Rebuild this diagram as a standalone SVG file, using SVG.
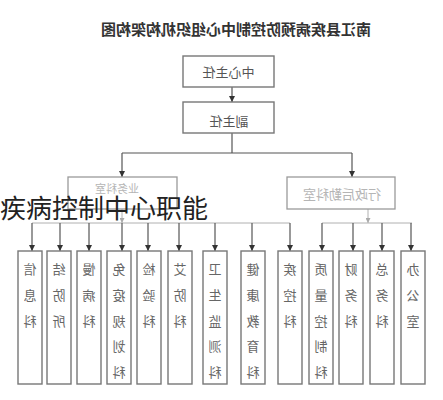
<svg xmlns="http://www.w3.org/2000/svg" width="443" height="400" viewBox="0 0 443 400">
<style>
.bg{fill:#fff}
.box{fill:#fff;stroke:#777;stroke-width:1.4}
.fbox{fill:#fff;stroke:#9a9a9a;stroke-width:1.3}
.ln{fill:none;stroke:#555;stroke-width:1.2}
.fl{fill:none;stroke:#b0b0b0;stroke-width:1}
.t{font-family:"Noto Sans CJK SC","Liberation Sans",sans-serif;fill:#555;text-anchor:middle}
.title{font-size:15px;font-weight:bold;fill:#333}
.m{font-size:13px}
.f{font-size:11px;fill:#b5b5b5}
.v{font-size:13px;fill:#666}
.ov{font-family:"Noto Sans CJK SC","Liberation Sans",sans-serif;font-size:26px;fill:#222}
</style>
<defs>
<marker id="ah" markerUnits="userSpaceOnUse" markerWidth="6" markerHeight="6" refX="6" refY="3" orient="auto"><path d="M0,0 L6,3 L0,6 z" fill="#333"/></marker>
<marker id="ahf" markerUnits="userSpaceOnUse" markerWidth="5" markerHeight="5" refX="5" refY="2.5" orient="auto"><path d="M0,0 L5,2.5 L0,5 z" fill="#aaa"/></marker>
</defs>
<rect class="bg" x="0" y="0" width="443" height="400"/>
<g transform="matrix(-1 0 0 1 443 0)">
<text id="title" class="t title" x="207" y="35">南江县疾病预防控制中心组织机构架构图</text>
<g id="connectors">
<line class="ln" x1="211" y1="87" x2="211" y2="102" marker-end="url(#ah)"/>
<polyline class="ln" points="211,133 211,153"/>
<line class="ln" x1="91" y1="153" x2="321" y2="153"/>
<line class="ln" x1="321" y1="153" x2="321" y2="177" marker-end="url(#ah)"/>
<line class="ln" x1="91" y1="153" x2="91" y2="177" marker-end="url(#ah)"/>
<line class="fl" x1="321" y1="209" x2="321" y2="223" marker-end="url(#ahf)"/>
<line class="fl" x1="75" y1="209" x2="75" y2="223" marker-end="url(#ahf)"/>
<line class="fl" x1="153" y1="223" x2="411" y2="223"/>
<line class="fl" x1="31" y1="223" x2="121" y2="223"/>
<g class="ln" marker-end="url(#ah)">
<line x1="411" y1="223" x2="411" y2="251"/>
<line x1="383" y1="223" x2="383" y2="251"/>
<line x1="354" y1="223" x2="354" y2="251"/>
<line x1="321" y1="223" x2="321" y2="251"/>
<line x1="295" y1="223" x2="295" y2="251"/>
<line x1="264" y1="223" x2="264" y2="251"/>
<line x1="228" y1="223" x2="228" y2="251"/>
<line x1="191" y1="223" x2="191" y2="251"/>
<line x1="153" y1="223" x2="153" y2="251"/>
<line x1="121" y1="223" x2="121" y2="251"/>
<line x1="90" y1="223" x2="90" y2="251"/>
<line x1="61" y1="223" x2="61" y2="251"/>
<line x1="32" y1="223" x2="32" y2="251"/>
</g>
</g>
<g id="director"><rect class="box" x="169" y="56" width="91" height="31"/><text class="t m" x="214.5" y="77">中心主任</text></g>
<g id="deputy"><rect class="box" x="169" y="102" width="91" height="31"/><text class="t m" x="214" y="126">副主任</text></g>
<g id="business"><rect class="fbox" x="266" y="177" width="109" height="32"/><text class="t f" x="326" y="193">业务科室</text></g>
<g id="admin"><rect class="fbox" x="48" y="177" width="108" height="32"/><text class="t f" style="font-size:13px" x="101" y="199">行政后勤科室</text></g>
<g id="d1"><rect class="box" x="401" y="251" width="24" height="133"/><text class="t v" x="413" y="274">信</text><text class="t v" x="413" y="300">息</text><text class="t v" x="413" y="326">科</text></g>
<g id="d2"><rect class="box" x="372" y="251" width="24" height="133"/><text class="t v" x="384" y="274">结</text><text class="t v" x="384" y="300">防</text><text class="t v" x="384" y="326">所</text></g>
<g id="d3"><rect class="box" x="342" y="251" width="24" height="133"/><text class="t v" x="354" y="274">慢</text><text class="t v" x="354" y="300">病</text><text class="t v" x="354" y="326">科</text></g>
<g id="d4"><rect class="box" x="312" y="251" width="24" height="133"/><text class="t v" x="324" y="274">免</text><text class="t v" x="324" y="300">疫</text><text class="t v" x="324" y="326">规</text><text class="t v" x="324" y="351">划</text><text class="t v" x="324" y="377">科</text></g>
<g id="d5"><rect class="box" x="282" y="251" width="24" height="133"/><text class="t v" x="294" y="274">检</text><text class="t v" x="294" y="300">验</text><text class="t v" x="294" y="326">科</text></g>
<g id="d6"><rect class="box" x="251" y="251" width="24" height="133"/><text class="t v" x="263" y="274">艾</text><text class="t v" x="263" y="300">防</text><text class="t v" x="263" y="326">科</text></g>
<g id="d7"><rect class="box" x="216" y="251" width="24" height="133"/><text class="t v" x="228" y="274">卫</text><text class="t v" x="228" y="300">生</text><text class="t v" x="228" y="326">监</text><text class="t v" x="228" y="351">测</text><text class="t v" x="228" y="377">科</text></g>
<g id="d8"><rect class="box" x="178" y="251" width="24" height="133"/><text class="t v" x="190" y="274">健</text><text class="t v" x="190" y="300">康</text><text class="t v" x="190" y="326">教</text><text class="t v" x="190" y="351">育</text><text class="t v" x="190" y="377">科</text></g>
<g id="d9"><rect class="box" x="141" y="251" width="24" height="133"/><text class="t v" x="153" y="274">疾</text><text class="t v" x="153" y="300">控</text><text class="t v" x="153" y="326">科</text></g>
<g id="d10"><rect class="box" x="110" y="251" width="24" height="133"/><text class="t v" x="122" y="274">质</text><text class="t v" x="122" y="300">量</text><text class="t v" x="122" y="326">控</text><text class="t v" x="122" y="351">制</text><text class="t v" x="122" y="377">科</text></g>
<g id="d11"><rect class="box" x="80" y="251" width="24" height="133"/><text class="t v" x="92" y="274">财</text><text class="t v" x="92" y="300">务</text><text class="t v" x="92" y="326">科</text></g>
<g id="d12"><rect class="box" x="49" y="251" width="24" height="133"/><text class="t v" x="61" y="274">总</text><text class="t v" x="61" y="300">务</text><text class="t v" x="61" y="326">科</text></g>
<g id="d13"><rect class="box" x="18" y="251" width="24" height="133"/><text class="t v" x="30" y="274">办</text><text class="t v" x="30" y="300">公</text><text class="t v" x="30" y="326">室</text></g>
</g>
<text id="overlay" class="ov" x="0" y="218">疾病控制中心职能</text>
</svg>
